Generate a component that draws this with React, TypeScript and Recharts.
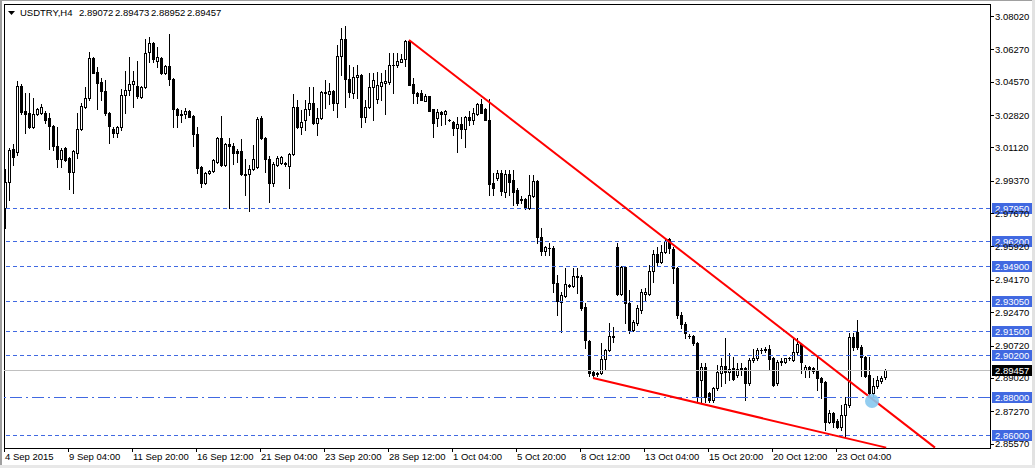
import { ComposedChart, Bar, XAxis, YAxis, ReferenceLine, ReferenceArea, ReferenceDot } from "recharts"

// USDTRY H4, one entry per candle
const open = [
  2.9794, 2.9930, 3.0104, 3.0088, 3.0435, 3.0303, 3.0293, 3.0219, 3.0288, 3.0293,
  3.0293, 3.0267, 3.0225, 3.0120, 3.0051, 3.0109, 3.0056, 2.9983, 3.0083, 3.0209,
  3.0324, 3.0371, 3.0581, 3.0508, 3.0456, 3.0408, 3.0293, 3.0209, 3.0188, 3.0219,
  3.0387, 3.0414, 3.0445, 3.0435, 3.0377, 3.0429, 3.0613, 3.0660, 3.0566, 3.0581,
  3.0503, 3.0540, 3.0471, 3.0314, 3.0288, 3.0288, 3.0303, 3.0277, 3.0183, 3.0009,
  2.9925, 2.9978, 2.9988, 3.0035, 3.0162, 3.0020, 3.0130, 3.0120, 3.0093, 3.0093,
  2.9972, 2.9972, 2.9999, 3.0009, 3.0267, 3.0162, 3.0051, 2.9925, 3.0020, 3.0030,
  3.0030, 3.0014, 3.0078, 3.0324, 3.0219, 3.0256, 3.0314, 3.0345, 3.0240, 3.0267,
  3.0398, 3.0393, 3.0408, 3.0345, 3.0592, 3.0681, 3.0471, 3.0398, 3.0482, 3.0492,
  3.0272, 3.0324, 3.0429, 3.0366, 3.0435, 3.0450, 3.0456, 3.0545, 3.0545, 3.0561,
  3.0576, 3.0671, 3.0445, 3.0398, 3.0398, 3.0356, 3.0382, 3.0314, 3.0267, 3.0298,
  3.0288, 3.0256, 3.0246, 3.0214, 3.0235, 3.0209, 3.0272, 3.0256, 3.0288, 3.0340,
  3.0314, 3.0256, 2.9925, 2.9951, 2.9978, 2.9878, 2.9972, 2.9941, 2.9889, 2.9841,
  2.9841, 2.9794, 2.9857, 2.9936, 2.9642, 2.9568, 2.9584, 2.9584, 2.9400, 2.9301,
  2.9332, 2.9389, 2.9384, 2.9437, 2.9432, 2.9274, 2.9096, 2.8933, 2.8922, 2.8928,
  2.9001, 2.9049, 2.9122, 2.9589, 2.9342, 2.9484, 2.9295, 2.9154, 2.9190, 2.9259,
  2.9342, 2.9342, 2.9463, 2.9553, 2.9511, 2.9563, 2.9631, 2.9579, 2.9479, 2.9232,
  2.9185, 2.9122, 2.9122, 2.9085, 2.8891, 2.8959, 2.8823, 2.8786, 2.8849, 2.8928,
  2.8964, 2.8933, 2.8954, 2.8917, 2.8954, 2.8954, 2.8875, 2.8996, 2.9007, 2.9049,
  2.9049, 2.9054, 2.9007, 2.8875, 2.8986, 2.8986, 2.9007, 2.8996, 2.9038, 2.9080,
  2.8944, 2.8959, 2.8954, 2.8938, 2.8901, 2.8881, 2.8671, 2.8718, 2.8676, 2.8644,
  2.8707, 2.8760, 2.9117, 2.9143, 2.9064, 2.9012, 2.8917, 2.8823, 2.8860, 2.8886,
  2.89072,
]

const high = [
  2.9999, 3.0109, 3.0130, 3.0461, 3.0445, 3.0398, 3.0398, 3.0371, 3.0319, 3.0340,
  3.0303, 3.0293, 3.0230, 3.0219, 3.0109, 3.0114, 3.0062, 3.0099, 3.0293, 3.0345,
  3.0429, 3.0613, 3.0587, 3.0534, 3.0477, 3.0466, 3.0298, 3.0219, 3.0225, 3.0419,
  3.0513, 3.0587, 3.0513, 3.0566, 3.0435, 3.0681, 3.0692, 3.0665, 3.0639, 3.0587,
  3.0545, 3.0708, 3.0477, 3.0319, 3.0309, 3.0319, 3.0309, 3.0282, 3.0219, 3.0014,
  2.9983, 2.9994, 3.0051, 3.0167, 3.0277, 3.0135, 3.0162, 3.0135, 3.0104, 3.0156,
  3.0051, 3.0020, 3.0125, 3.0272, 3.0277, 3.0167, 3.0067, 3.0035, 3.0067, 3.0067,
  3.0035, 3.0083, 3.0393, 3.0361, 3.0309, 3.0361, 3.0429, 3.0429, 3.0319, 3.0408,
  3.0466, 3.0450, 3.0414, 3.0650, 3.0739, 3.0750, 3.0545, 3.0534, 3.0545, 3.0497,
  3.0361, 3.0503, 3.0503, 3.0508, 3.0503, 3.0519, 3.0608, 3.0608, 3.0608, 3.0603,
  3.0676, 3.0676, 3.0477, 3.0403, 3.0414, 3.0393, 3.0382, 3.0314, 3.0314, 3.0303,
  3.0309, 3.0261, 3.0251, 3.0272, 3.0272, 3.0277, 3.0303, 3.0319, 3.0345, 3.0366,
  3.0319, 3.0366, 2.9978, 2.9994, 2.9994, 2.9994, 2.9994, 2.9994, 2.9899, 2.9857,
  2.9846, 2.9967, 2.9967, 2.9941, 2.9689, 2.9594, 2.9610, 2.9594, 2.9442, 2.9353,
  2.9479, 2.9395, 2.9479, 2.9479, 2.9442, 2.9295, 2.9101, 2.8938, 2.8933, 2.9085,
  2.9054, 2.9190, 2.9169, 2.9610, 2.9489, 2.9489, 2.9364, 2.9206, 2.9285, 2.9369,
  2.9374, 2.9495, 2.9574, 2.9589, 2.9600, 2.9631, 2.9637, 2.9589, 2.9484, 2.9248,
  2.9196, 2.9133, 2.9127, 2.9091, 2.8980, 2.8980, 2.8828, 2.8854, 2.8970, 2.9007,
  2.9112, 2.9033, 2.9012, 2.8980, 2.8980, 2.8959, 2.9007, 2.9054, 2.9059, 2.9059,
  2.9064, 2.9075, 2.9012, 2.8996, 2.9007, 2.9007, 2.9012, 2.9117, 2.9112, 2.9085,
  2.8970, 2.8964, 2.8959, 2.9012, 2.8907, 2.8886, 2.8734, 2.8723, 2.8686, 2.8760,
  2.8802, 2.9138, 2.9138, 2.9206, 2.9075, 2.9017, 2.9012, 2.8901, 2.8912, 2.8912,
  2.89473,
]

const low = [
  2.9689, 2.9836, 3.0020, 3.0072, 3.0288, 3.0188, 3.0214, 3.0214, 3.0282, 3.0288,
  3.0240, 3.0104, 3.0099, 3.0009, 3.0009, 3.0041, 2.9894, 2.9873, 3.0056, 3.0204,
  3.0319, 3.0361, 3.0503, 3.0314, 3.0361, 3.0282, 3.0135, 3.0167, 3.0167, 3.0204,
  3.0293, 3.0387, 3.0324, 3.0371, 3.0371, 3.0424, 3.0561, 3.0561, 3.0534, 3.0497,
  3.0497, 3.0440, 3.0219, 3.0219, 3.0246, 3.0267, 3.0272, 3.0120, 2.9978, 2.9904,
  2.9920, 2.9972, 2.9983, 3.0030, 3.0014, 3.0014, 2.9794, 3.0025, 3.0035, 2.9967,
  2.9862, 2.9778, 2.9994, 3.0004, 3.0156, 2.9983, 2.9826, 2.9909, 3.0014, 3.0025,
  3.0014, 2.9899, 3.0072, 3.0214, 3.0183, 3.0204, 3.0282, 3.0235, 3.0177, 3.0261,
  3.0319, 3.0340, 3.0309, 3.0272, 3.0492, 3.0324, 3.0377, 3.0371, 3.0371, 3.0219,
  3.0246, 3.0319, 3.0256, 3.0345, 3.0361, 3.0288, 3.0445, 3.0398, 3.0534, 3.0561,
  3.0540, 3.0440, 3.0345, 3.0345, 3.0361, 3.0356, 3.0303, 3.0167, 3.0225, 3.0230,
  3.0235, 3.0251, 3.0177, 3.0088, 3.0162, 3.0114, 3.0230, 3.0235, 3.0282, 3.0293,
  3.0256, 2.9862, 2.9862, 2.9941, 2.9862, 2.9852, 2.9862, 2.9810, 2.9810, 2.9820,
  2.9789, 2.9789, 2.9852, 2.9610, 2.9548, 2.9548, 2.9548, 2.9353, 2.9232, 2.9143,
  2.9327, 2.9379, 2.9379, 2.9348, 2.9259, 2.9059, 2.8912, 2.8901, 2.8912, 2.8922,
  2.8944, 2.9044, 2.9091, 2.9337, 2.9337, 2.9190, 2.9138, 2.9148, 2.9180, 2.9243,
  2.9311, 2.9337, 2.9406, 2.9495, 2.9505, 2.9558, 2.9558, 2.9400, 2.9217, 2.9164,
  2.9112, 2.9112, 2.9075, 2.8775, 2.8775, 2.8775, 2.8775, 2.8775, 2.8839, 2.8860,
  2.8875, 2.8891, 2.8891, 2.8907, 2.8917, 2.8786, 2.8865, 2.8986, 2.8996, 2.9033,
  2.9038, 2.8944, 2.8860, 2.8865, 2.8970, 2.8980, 2.8996, 2.8991, 2.9028, 2.8928,
  2.8907, 2.8907, 2.8928, 2.8839, 2.8796, 2.8629, 2.8665, 2.8644, 2.8639, 2.8629,
  2.8592, 2.8749, 2.9049, 2.9054, 2.8912, 2.8907, 2.8802, 2.8802, 2.8849, 2.8875,
  2.88952,
]

const close = [
  2.9930, 3.0099, 3.0062, 3.0435, 3.0298, 3.0288, 3.0219, 3.0288, 3.0314, 3.0324,
  3.0256, 3.0225, 3.0120, 3.0051, 3.0099, 3.0046, 2.9983, 3.0093, 3.0209, 3.0330,
  3.0371, 3.0581, 3.0503, 3.0450, 3.0408, 3.0293, 3.0225, 3.0188, 3.0219, 3.0387,
  3.0414, 3.0445, 3.0461, 3.0382, 3.0429, 3.0608, 3.0660, 3.0576, 3.0587, 3.0503,
  3.0540, 3.0471, 3.0314, 3.0282, 3.0282, 3.0303, 3.0272, 3.0183, 3.0004, 2.9925,
  2.9978, 2.9988, 3.0046, 3.0162, 3.0020, 3.0130, 3.0120, 3.0083, 3.0083, 2.9972,
  2.9967, 2.9999, 3.0051, 3.0261, 3.0162, 3.0051, 2.9925, 3.0025, 3.0056, 3.0062,
  3.0025, 3.0078, 3.0324, 3.0219, 3.0246, 3.0314, 3.0345, 3.0240, 3.0267, 3.0403,
  3.0403, 3.0408, 3.0345, 3.0592, 3.0681, 3.0471, 3.0403, 3.0482, 3.0492, 3.0272,
  3.0324, 3.0429, 3.0466, 3.0440, 3.0456, 3.0461, 3.0545, 3.0545, 3.0566, 3.0576,
  3.0671, 3.0440, 3.0398, 3.0382, 3.0361, 3.0382, 3.0303, 3.0240, 3.0298, 3.0288,
  3.0303, 3.0256, 3.0214, 3.0235, 3.0209, 3.0272, 3.0256, 3.0293, 3.0340, 3.0293,
  3.0256, 2.9920, 2.9899, 2.9978, 2.9883, 2.9972, 2.9930, 2.9878, 2.9820, 2.9836,
  2.9794, 2.9862, 2.9936, 2.9642, 2.9568, 2.9589, 2.9584, 2.9400, 2.9306, 2.9337,
  2.9395, 2.9384, 2.9437, 2.9432, 2.9269, 2.9101, 2.8928, 2.8917, 2.8928, 2.9001,
  2.9049, 2.9122, 2.9117, 2.9342, 2.9484, 2.9295, 2.9154, 2.9196, 2.9269, 2.9353,
  2.9353, 2.9463, 2.9553, 2.9511, 2.9563, 2.9621, 2.9584, 2.9479, 2.9232, 2.9185,
  2.9138, 2.9122, 2.9085, 2.8802, 2.8959, 2.8802, 2.8786, 2.8849, 2.8933, 2.8964,
  2.8933, 2.8949, 2.8896, 2.8949, 2.8944, 2.8875, 2.8996, 2.9007, 2.9049, 2.9049,
  2.9054, 2.9001, 2.8865, 2.8986, 2.8991, 2.9007, 2.9007, 2.9038, 2.9080, 2.8986,
  2.8959, 2.8944, 2.8938, 2.8901, 2.8881, 2.8671, 2.8718, 2.8671, 2.8644, 2.8707,
  2.8765, 2.9117, 2.9064, 2.9064, 2.9012, 2.8912, 2.8823, 2.8860, 2.8891, 2.8901,
  2.89457,
]

// one time label every 16 bars
const timeLabels = [
  "4 Sep 2015", "9 Sep 04:00", "11 Sep 20:00", "16 Sep 12:00", "21 Sep 04:00",
  "23 Sep 20:00", "28 Sep 12:00", "1 Oct 04:00", "5 Oct 20:00", "8 Oct 12:00",
  "13 Oct 04:00", "15 Oct 20:00", "20 Oct 12:00", "23 Oct 04:00",
]
const labelEvery = 16

const priceTicks = [
  3.0802, 3.0627, 3.0457, 3.0282, 3.0112, 2.9937, 2.9767,
  2.9592, 2.9417, 2.9247, 2.9072, 2.8902, 2.8727, 2.8557,
]
const priceRange = [2.8534, 3.0865]
const barRange = [-0.25, 246.25]

// horizontal support / resistance levels
const levels = [2.9795, 2.962, 2.949, 2.9305, 2.915, 2.902, 2.86]
const keyLevel = 2.88

// trendlines as [bar index, price] pairs
const upperTrend = [[101, 3.0676], [232.5, 2.8536]]
const lowerTrend = [[147, 2.8901], [220.3, 2.8536]]
const marker = [216.75, 2.8781]

const rows = open.map((o, i) => ({ i, o, h: high[i], l: low[i], c: close[i] }))
const xTicks = timeLabels.map((_, k) => k * labelEvery)
const n = close.length - 1
const last = close[n]
const header = [open[n], high[n], low[n], close[n]]

const FONT = '"Liberation Sans", Arial, sans-serif'
const BLUE = "#4169E1"

function Candle(props: any) {
  const { x, y, width, height, payload } = props
  if (x == null || !payload) return null
  const cx = Math.round(x + width / 2)
  const top = Math.min(y, y + height)
  const bot = Math.max(y, y + height)
  const span = payload.h - payload.l
  const py = (v: number) => (span > 0 ? top + ((payload.h - v) / span) * (bot - top) : top)
  const yo = Math.round(py(payload.o))
  const yc = Math.round(py(payload.c))
  const wt = Math.round(top)
  const wb = Math.round(bot)
  let body
  if (Math.abs(yo - yc) < 1) {
    body = <line x1={cx - 1} x2={cx + 2} y1={yo + 0.5} y2={yo + 0.5} stroke="#000" />
  } else if (payload.c < payload.o) {
    body = <rect x={cx - 1} y={yo} width={3} height={yc - yo + 1} fill="#000" />
  } else {
    body = <rect x={cx - 0.5} y={yc + 0.5} width={2} height={yo - yc} fill="#fff" stroke="#000" />
  }
  return (
    <g shapeRendering="crispEdges">
      <line x1={cx + 0.5} x2={cx + 0.5} y1={wt} y2={wb + 1} stroke="#000" />
      {body}
    </g>
  )
}

// horizontal line snapped to a pixel row
const flatLine = (color: string, dash?: string) => (p: any) => {
  const yy = Math.round(p.y1) + 0.5
  return <line x1={p.x1} x2={p.x2} y1={yy} y2={yy} stroke={color} strokeWidth={1} strokeDasharray={dash} />
}

function TimeTick(props: any) {
  const { x, y, payload } = props
  const k = Math.round(payload.value / labelEvery)
  return (
    <g>
      <line x1={x - 0.5} x2={x - 0.5} y1={y - 6} y2={y - 2} stroke="#000" />
      <text x={x} y={y + 6} fontSize={9.5} fontFamily={FONT} fill="#000">
        {timeLabels[k]}
      </text>
    </g>
  )
}

function PriceTick(props: any) {
  const { x, y, payload } = props
  const ly = Math.round(y) + 0.5
  return (
    <g>
      <line x1={x - 4} x2={x - 1} y1={ly} y2={ly} stroke="#000" />
      <text x={x} y={y + 3.5} fontSize={9.5} fontFamily={FONT} fill="#000">
        {payload.value.toFixed(5)}
      </text>
    </g>
  )
}

function Tag(props: any) {
  const { viewBox, txt, bg } = props
  if (!viewBox) return null
  const x = viewBox.x + viewBox.width + 2
  const y = Math.round(viewBox.y)
  return (
    <g>
      <rect x={x} y={y - 5} width={40} height={11} fill={bg} />
      <text x={x + 3} y={y + 4} fontSize={9.5} fontFamily={FONT} fill="#fff">
        {txt}
      </text>
    </g>
  )
}

export default function App() {
  return (
    <div style={{ position: "absolute", left: 0, top: 0, width: 1035, height: 468, background: "#fff" }}>
      <ComposedChart width={1035} height={468} data={rows} margin={{ top: 4, right: 0, bottom: 0, left: 4 }}>
        <XAxis
          type="number"
          dataKey="i"
          domain={barRange}
          allowDataOverflow
          ticks={xTicks}
          interval={0}
          tick={<TimeTick />}
          tickLine={false}
          axisLine={false}
          tickSize={4}
          tickMargin={2}
          height={20}
        />
        <YAxis
          orientation="right"
          domain={priceRange}
          allowDataOverflow
          ticks={priceTicks}
          interval={0}
          tick={<PriceTick />}
          tickLine={false}
          axisLine={false}
          tickSize={4}
          tickMargin={1}
          width={45}
        />
        <ReferenceArea x1={barRange[0]} x2={barRange[1]} y1={priceRange[0]} y2={priceRange[1]} fill="none" stroke="#000" shapeRendering="crispEdges" />
        {levels.map((v) => (
          <ReferenceLine
            key={v}
            y={v}
            stroke={BLUE}
            shape={flatLine(BLUE, "4 3")}
            label={<Tag txt={v.toFixed(5)} bg={BLUE} />}
          />
        ))}
        <ReferenceLine
          y={keyLevel}
          stroke={BLUE}
          shape={flatLine(BLUE, "12 4 2 4")}
          label={<Tag txt={keyLevel.toFixed(5)} bg={BLUE} />}
        />
        <ReferenceLine y={last} stroke="#C0C0C0" shape={flatLine("#C0C0C0")} label={<Tag txt={last.toFixed(5)} bg="#000" />} />
        <Bar dataKey={(d: any) => [d.l, d.h]} shape={<Candle />} barSize={3} isAnimationActive={false} />
        <ReferenceDot x={marker[0]} y={marker[1]} r={7} fill="#87C8EE" stroke="none" fillOpacity={0.9} />
        <ReferenceLine
          segment={[{ x: upperTrend[0][0], y: upperTrend[0][1] }, { x: upperTrend[1][0], y: upperTrend[1][1] }]}
          stroke="#FF0000"
          strokeWidth={2}
        />
        <ReferenceLine
          segment={[{ x: lowerTrend[0][0], y: lowerTrend[0][1] }, { x: lowerTrend[1][0], y: lowerTrend[1][1] }]}
          stroke="#FF0000"
          strokeWidth={2}
        />
      </ComposedChart>
      <svg width={260} height={20} style={{ position: "absolute", left: 0, top: 0 }}>
        <polygon points="8,11 15,11 11.5,15" fill="#000" />
        <text x={20} y={16} fontSize={9.5} fontFamily={FONT} fill="#000">USDTRY,H4</text>
        {header.map((v, k) => (
          <text key={k} x={79 + k * 36} y={16} fontSize={9.5} fontFamily={FONT} fill="#000">
            {v.toFixed(5)}
          </text>
        ))}
      </svg>
      <div style={{ position: "absolute", left: 0, top: 0, width: 1035, height: 1, background: "#a0a0a0" }} />
      <div style={{ position: "absolute", left: 0, top: 0, width: 2, height: 468, background: "#a0a0a0" }} />
      <div style={{ position: "absolute", left: 1032, top: 0, width: 3, height: 468, background: "#e2e2e2" }} />
      <div style={{ position: "absolute", left: 0, top: 465, width: 1035, height: 3, background: "#e8e8e8" }} />
    </div>
  )
}
